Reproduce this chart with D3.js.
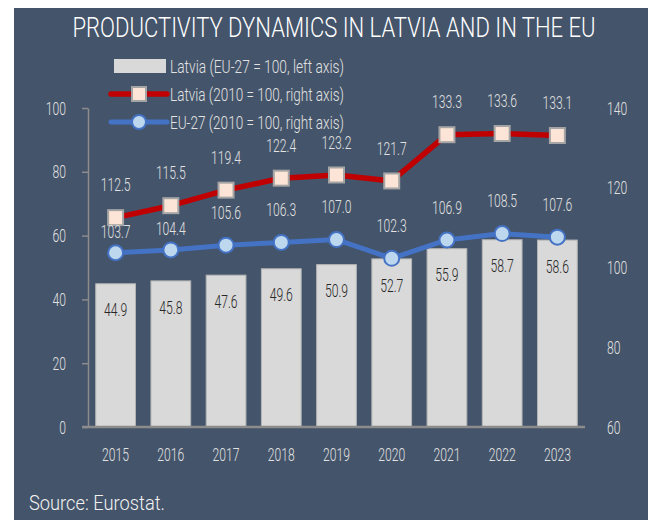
<!DOCTYPE html>
<html>
<head>
<meta charset="utf-8">
<script src="https://cdn.jsdelivr.net/npm/d3@7"></script>
<style>
  body { margin: 0; background: #fff; }
  svg { display: block; }
  text { font-family: Roboto, "Liberation Sans Narrow", "DejaVu Sans Condensed", sans-serif; font-weight: 300; }
</style>
</head>
<body>
<svg id="chart" width="651" height="520"></svg>
<script>
// data
const years = ["2015", "2016", "2017", "2018", "2019", "2020", "2021", "2022", "2023"];
const latviaEu = [44.9, 45.8, 47.6, 49.6, 50.9, 52.7, 55.9, 58.7, 58.6];
const latvia2010 = [112.5, 115.5, 119.4, 122.4, 123.2, 121.7, 133.3, 133.6, 133.1];
const eu2010 = [103.7, 104.4, 105.6, 106.3, 107.0, 102.3, 106.9, 108.5, 107.6];
const leftTicks = [0, 20, 40, 60, 80, 100];
const rightTicks = [60, 80, 100, 120, 140];
// label shifts (px above marker) - first two EU labels sit lower
const euLabelDy = [-21, -22, -33, -33, -33, -33, -33, -33, -33];

const legendItems = [
  {type: "bar", label: "Latvia (EU-27 = 100, left axis)"},
  {type: "square", label: "Latvia (2010 = 100, right axis)"},
  {type: "circle", label: "EU-27 (2010 = 100, right axis)"}
];

const svg = d3.select("#chart");

// panel
svg.append("rect")
  .attr("x", 14).attr("y", 8)
  .attr("width", 634).attr("height", 520)
  .attr("fill", "#44546a");

const x = d3.scaleBand().domain(years).range([88, 585]).paddingInner(0.28).paddingOuter(0.14);
const yL = d3.scaleLinear().domain([0, 100]).range([427, 108]);
const yR = d3.scaleLinear().domain([60, 140]).range([427, 108]);

const labelColor = "#e2e2e2";
const axisColor = "#8c8c8c";

// fit a text to a given width (condensed look)
function fitTo(sel, w) {
  sel.attr("textLength", w).attr("lengthAdjust", "spacingAndGlyphs");
}

// title
svg.append("text")
  .attr("x", 334).attr("y", 27)
  .attr("dy", "0.35em")
  .attr("text-anchor", "middle")
  .attr("font-size", 28)
  .attr("fill", "#ffffff")
  .text("PRODUCTIVITY DYNAMICS IN LATVIA AND IN THE EU")
  .call(fitTo, 523);

// left axis
const leftAxis = svg.append("g")
  .attr("transform", "translate(88,0)")
  .call(d3.axisLeft(yL).tickValues(leftTicks).tickSize(6).tickPadding(16).tickSizeOuter(0));
leftAxis.select(".domain").attr("stroke", axisColor).attr("stroke-width", 1.5);
leftAxis.selectAll(".tick line").attr("stroke", axisColor).attr("stroke-width", 1.5);
leftAxis.selectAll(".tick text")
  .attr("class", "cond")
  .attr("font-size", 19)
  .attr("font-family", null)
  .attr("fill", labelColor);

// right axis (labels only)
const rightAxis = svg.append("g")
  .attr("transform", "translate(585,0)")
  .call(d3.axisRight(yR).tickValues(rightTicks).tickSize(0).tickPadding(22));
rightAxis.select(".domain").remove();
rightAxis.selectAll(".tick text")
  .attr("class", "cond")
  .attr("font-size", 19)
  .attr("font-family", null)
  .attr("fill", labelColor);

// bars
svg.append("g")
  .selectAll("rect")
  .data(latviaEu)
  .join("rect")
  .attr("x", (d, i) => x(years[i]))
  .attr("y", d => yL(d))
  .attr("width", x.bandwidth())
  .attr("height", d => yL(0) - yL(d))
  .attr("fill", "#d9d9d9")
  .attr("stroke", "#b4b4b4")
  .attr("stroke-width", 1);

// bottom axis
const bottomAxis = svg.append("g")
  .attr("transform", "translate(0,427)")
  .call(d3.axisBottom(x).tickSize(0).tickPadding(21).tickSizeOuter(0));
bottomAxis.select(".domain").attr("stroke", axisColor).attr("stroke-width", 2.5)
  .attr("d", "M82,0H585");
bottomAxis.selectAll(".tick text")
  .attr("class", "cond")
  .attr("font-size", 19)
  .attr("font-family", null)
  .attr("fill", labelColor);

// bar labels
svg.append("g")
  .selectAll("text")
  .data(latviaEu)
  .join("text")
  .attr("class", "cond")
  .attr("x", (d, i) => x(years[i]) + x.bandwidth() / 2)
  .attr("y", d => yL(d) + 26)
  .attr("dy", "0.35em")
  .attr("text-anchor", "middle")
  .attr("font-size", 19)
  .attr("font-weight", 400)
  .attr("fill", "#262626")
  .text(d => d.toFixed(1));

const cx = i => x(years[i]) + x.bandwidth() / 2;

// EU line
svg.append("path")
  .datum(eu2010)
  .attr("d", d3.line().x((d, i) => cx(i)).y(d => yR(d)))
  .attr("fill", "none")
  .attr("stroke", "#4472c4")
  .attr("stroke-width", 5)
  .attr("stroke-linejoin", "round");

svg.append("g")
  .selectAll("circle")
  .data(eu2010)
  .join("circle")
  .attr("cx", (d, i) => cx(i))
  .attr("cy", d => yR(d))
  .attr("r", 7.5)
  .attr("fill", "#bdd7ee")
  .attr("stroke", "#4472c4")
  .attr("stroke-width", 2);

// Latvia line
svg.append("path")
  .datum(latvia2010)
  .attr("d", d3.line().x((d, i) => cx(i)).y(d => yR(d)))
  .attr("fill", "none")
  .attr("stroke", "#c00000")
  .attr("stroke-width", 5.5)
  .attr("stroke-linejoin", "round");

svg.append("g")
  .selectAll("rect")
  .data(latvia2010)
  .join("rect")
  .attr("x", (d, i) => cx(i) - 7.5)
  .attr("y", d => yR(d) - 7.5)
  .attr("width", 15)
  .attr("height", 15)
  .attr("fill", "#fce4d6")
  .attr("stroke", "#a5a5a5")
  .attr("stroke-width", 2);

// line labels
svg.append("g")
  .selectAll("text")
  .data(latvia2010)
  .join("text")
  .attr("class", "cond")
  .attr("x", (d, i) => cx(i))
  .attr("y", d => yR(d) - 33)
  .attr("dy", "0.35em")
  .attr("text-anchor", "middle")
  .attr("font-size", 19)
  .attr("fill", labelColor)
  .text(d => d.toFixed(1));

svg.append("g")
  .selectAll("text")
  .data(eu2010)
  .join("text")
  .attr("class", "cond")
  .attr("x", (d, i) => cx(i))
  .attr("y", (d, i) => yR(d) + euLabelDy[i])
  .attr("dy", "0.35em")
  .attr("text-anchor", "middle")
  .attr("font-size", 19)
  .attr("fill", labelColor)
  .text(d => d.toFixed(1));

// legend
const legend = svg.append("g").attr("transform", "translate(111,66)");
legendItems.forEach((item, i) => {
  const g = legend.append("g").attr("transform", `translate(0,${i * 28})`);
  if (item.type === "bar") {
    g.append("rect").attr("x", 3).attr("y", -7).attr("width", 52).attr("height", 14).attr("fill", "#d9d9d9");
  } else if (item.type === "square") {
    g.append("line").attr("x1", 0).attr("x2", 56).attr("stroke", "#c00000").attr("stroke-width", 5.5).attr("stroke-linecap", "round");
    g.append("rect").attr("x", 21).attr("y", -7).attr("width", 14).attr("height", 14)
      .attr("fill", "#fce4d6").attr("stroke", "#a5a5a5").attr("stroke-width", 2);
  } else {
    g.append("line").attr("x1", 0).attr("x2", 56).attr("stroke", "#4472c4").attr("stroke-width", 5).attr("stroke-linecap", "round");
    g.append("circle").attr("cx", 28).attr("r", 7).attr("fill", "#bdd7ee").attr("stroke", "#4472c4").attr("stroke-width", 2);
  }
  g.append("text")
    .attr("x", 59)
    .attr("dy", "0.35em")
    .attr("font-size", 19)
    .attr("fill", labelColor)
    .text(item.label)
    .call(fitTo, 174);
});

// source
svg.append("text")
  .attr("x", 29).attr("y", 503)
  .attr("dy", "0.35em")
  .attr("font-size", 21)
  .attr("fill", "#f2f2f2")
  .text("Source: Eurostat.")
  .call(fitTo, 136);

// squeeze condensed labels: match digit width of ~0.355em
const probe = svg.append("text").attr("font-size", 100).text("0123456789");
const digitW = probe.node().getComputedTextLength() / 10;
probe.remove();
const k = 35.5 / digitW;
svg.selectAll("text.cond").each(function() {
  const len = this.getComputedTextLength();
  d3.select(this).attr("textLength", len * k).attr("lengthAdjust", "spacingAndGlyphs");
});
</script>
</body>
</html>
